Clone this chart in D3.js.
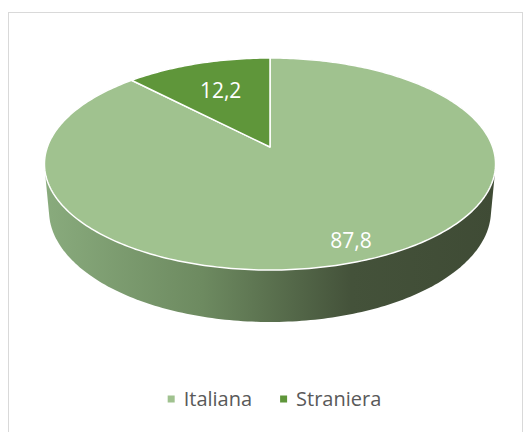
<!DOCTYPE html>
<html>
<head>
<meta charset="utf-8">
<script src="https://cdn.jsdelivr.net/npm/d3@7"></script>
<style>
  html, body { margin: 0; padding: 0; background: #fff; }
  svg { display: block; }
</style>
</head>
<body>
<svg id="chart" width="529" height="432"></svg>
<script>
// Share of residents by citizenship (%)
const categories = ["Italiana", "Straniera"];
const values = [87.8, 12.2];
const colors = ["#a0c28f", "#5f963a"];

const svg = d3.select("#chart");
const W = 529, H = 432;

// chart area frame
svg.append("rect")
  .attr("x", 8.5).attr("y", 12.5)
  .attr("width", 514).attr("height", 440)
  .attr("fill", "#fff").attr("stroke", "#d9d9d9").attr("stroke-width", 1);

// perspective camera for the 3D disc
const cx = 270, cy = 147;          // screen position of the disc centre
const focal = 1230;                // focal length (px)
const dist = 5.525;                // camera distance in disc radii
const tilt = Math.asin(0.464);     // viewing elevation
const thickness = 0.239;           // disc thickness in disc radii
const sinT = Math.sin(tilt), cosT = Math.cos(tilt);

// project a point of the disc (angle a clockwise from back, radius r, height h)
function project(a, r, h) {
  const X = r * Math.sin(a), Z = r * Math.cos(a);
  const v = Z * sinT + h * cosT;
  const w = Z * cosT - h * sinT;
  const s = focal / (dist + w);
  return [cx + X * s, cy - v * s];
}

const pie = d3.pie().sort(null).value(d => d.value);
const arcs = pie(categories.map((c, i) => ({ name: c, value: values[i], color: colors[i] })));

// side wall: hull of the top and bottom rims
const rim = [];
const N = 360;
for (let i = 0; i < N; i++) {
  const a = (i / N) * 2 * Math.PI;
  rim.push(project(a, 1, 0));
  rim.push(project(a, 1, -thickness));
}
const hull = d3.polygonHull(rim);

const defs = svg.append("defs");
const grad = defs.append("linearGradient")
  .attr("id", "sideShade")
  .attr("gradientUnits", "userSpaceOnUse")
  .attr("x1", 45).attr("x2", 496).attr("y1", 0).attr("y2", 0);
grad.append("stop").attr("offset", "0%").attr("stop-color", "#89ab7d");
grad.append("stop").attr("offset", "35%").attr("stop-color", "#6d8a60");
grad.append("stop").attr("offset", "68%").attr("stop-color", "#44523a");
grad.append("stop").attr("offset", "100%").attr("stop-color", "#3f4b35");

svg.append("path")
  .attr("d", "M" + hull.join("L") + "Z")
  .attr("fill", "url(#sideShade)");

// top face slices
function slicePath(d) {
  const pts = [project(0, 0, 0)];
  const steps = Math.max(8, Math.ceil((d.endAngle - d.startAngle) / (Math.PI / 180)));
  for (let i = 0; i <= steps; i++) {
    const a = d.startAngle + (d.endAngle - d.startAngle) * i / steps;
    pts.push(project(a, 1, 0));
  }
  return "M" + pts.join("L") + "Z";
}

svg.append("g").selectAll("path")
  .data(arcs)
  .join("path")
  .attr("d", slicePath)
  .attr("fill", d => d.data.color)
  .attr("stroke", "#fff")
  .attr("stroke-width", 1.5)
  .attr("stroke-linejoin", "round");

// value labels
const fmt = d3.formatLocale({ decimal: ",", thousands: ".", grouping: [3], currency: ["", "€"] }).format(".1f");
svg.append("g").selectAll("text")
  .data(arcs)
  .join("text")
  .attr("transform", d => {
    const mid = (d.startAngle + d.endAngle) / 2;
    const r = (d.endAngle - d.startAngle) > Math.PI ? 0.85 : 0.65;
    const p = project(mid, r, 0);
    return `translate(${p[0]},${p[1]})`;
  })
  .attr("text-anchor", "middle")
  .attr("dy", "0.36em")
  .attr("font-family", "'Open Sans', sans-serif")
  .attr("font-size", 21)
  .attr("fill", "#fff")
  .text(d => fmt(d.data.value));

// legend
const legend = svg.append("g");
const items = legend.selectAll("g")
  .data(arcs)
  .join("g");
items.append("rect")
  .attr("width", 7).attr("height", 7)
  .attr("y", -3.5)
  .attr("fill", d => d.data.color);
items.append("text")
  .attr("x", 16)
  .attr("dy", "0.36em")
  .attr("font-family", "'Open Sans', sans-serif")
  .attr("font-size", 20)
  .attr("fill", "#595959")
  .text(d => d.data.name);

let xPos = 0;
items.each(function() {
  const w = d3.select(this).select("text").node().getComputedTextLength();
  d3.select(this).attr("transform", `translate(${xPos},0)`);
  xPos += 16 + w + 28;
});
const total = xPos - 28;
legend.attr("transform", `translate(${274.5 - total / 2},399)`);
</script>
</body>
</html>
